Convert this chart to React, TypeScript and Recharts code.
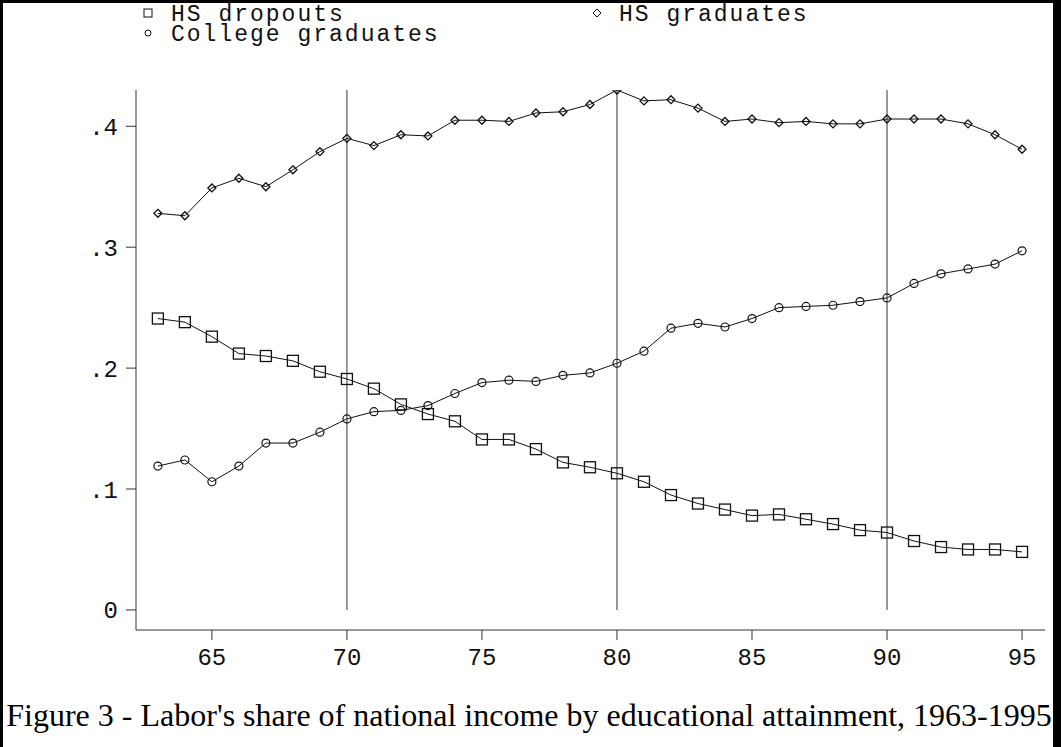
import React from "react";
import { LineChart, Line, XAxis, YAxis, ReferenceLine } from "recharts";

// Labor's share of national income, by group, 1963-1995 (two-digit years)
const YEARS = [
  63, 64, 65, 66, 67, 68, 69, 70, 71, 72, 73, 74, 75, 76, 77, 78, 79,
  80, 81, 82, 83, 84, 85, 86, 87, 88, 89, 90, 91, 92, 93, 94, 95,
];
const HS_DROPOUTS = [
  0.241, 0.238, 0.226, 0.212, 0.21, 0.206, 0.197, 0.191, 0.183, 0.17, 0.162,
  0.156, 0.141, 0.141, 0.133, 0.122, 0.118, 0.113, 0.106, 0.095, 0.088, 0.083,
  0.078, 0.079, 0.075, 0.071, 0.066, 0.064, 0.057, 0.052, 0.05, 0.05, 0.048,
];
const HS_GRADUATES = [
  0.328, 0.326, 0.349, 0.357, 0.35, 0.364, 0.379, 0.39, 0.384, 0.393, 0.392,
  0.405, 0.405, 0.404, 0.411, 0.412, 0.418, 0.43, 0.421, 0.422, 0.415, 0.404,
  0.406, 0.403, 0.404, 0.402, 0.402, 0.406, 0.406, 0.406, 0.402, 0.393, 0.381,
];
const COLLEGE_GRADUATES = [
  0.119, 0.124, 0.106, 0.119, 0.138, 0.138, 0.147, 0.158, 0.164, 0.165, 0.169,
  0.179, 0.188, 0.19, 0.189, 0.194, 0.196, 0.204, 0.214, 0.233, 0.237, 0.234,
  0.241, 0.25, 0.251, 0.252, 0.255, 0.258, 0.27, 0.278, 0.282, 0.286, 0.297,
];
const X_TICKS = [65, 70, 75, 80, 85, 90, 95];
const Y_TICKS = [0, 0.1, 0.2, 0.3, 0.4];
const DECADE_MARKS = [70, 80, 90];
const CAPTION =
  "Figure 3 - Labor's share of national income by educational attainment, 1963-1995";

const rows = YEARS.map((year, i) => ({
  year,
  dropouts: HS_DROPOUTS[i],
  hsGrads: HS_GRADUATES[i],
  college: COLLEGE_GRADUATES[i],
}));

const yMax = Math.max(...HS_DROPOUTS, ...HS_GRADUATES, ...COLLEGE_GRADUATES);

const MONO = "'Liberation Mono', 'DejaVu Sans Mono', monospace";
const INK = "#111";

const fmtY = (v: number) => (v === 0 ? "0" : v.toFixed(1).replace(/^0/, ""));

const squareDot = (p: any) => (
  <rect
    key={`sq-${p.index}`}
    x={p.cx - 5.5}
    y={p.cy - 5.5}
    width={11}
    height={11}
    fill="none"
    stroke={INK}
    strokeWidth={1.3}
  />
);

const diamondDot = (p: any) => (
  <path
    key={`dm-${p.index}`}
    d={`M${p.cx},${p.cy - 4} L${p.cx + 4},${p.cy} L${p.cx},${p.cy + 4} L${p.cx - 4},${p.cy} Z`}
    fill="none"
    stroke={INK}
    strokeWidth={1.3}
  />
);

const circleDot = (p: any) => (
  <circle
    key={`ci-${p.index}`}
    cx={p.cx}
    cy={p.cy}
    r={4}
    fill="none"
    stroke={INK}
    strokeWidth={1.2}
  />
);

const legendText: React.CSSProperties = {
  position: "absolute",
  fontFamily: MONO,
  fontSize: 23,
  letterSpacing: 2,
  lineHeight: "20px",
  color: INK,
  whiteSpace: "pre",
};

function LegendBlock() {
  return (
    <>
      <svg
        style={{ position: "absolute", left: 0, top: 0 }}
        width={1061}
        height={60}
      >
        <rect x={144} y={9} width={8} height={8} fill="none" stroke={INK} strokeWidth={1} />
        <path d="M597,9 L601,13 L597,17 L593,13 Z" fill="none" stroke={INK} strokeWidth={1} />
        <circle cx={148} cy={33} r={3} fill="none" stroke={INK} strokeWidth={1} />
      </svg>
      <div style={{ ...legendText, left: 171, top: 5 }}>HS dropouts</div>
      <div style={{ ...legendText, left: 619, top: 5 }}>HS graduates</div>
      <div style={{ ...legendText, left: 171, top: 25 }}>College graduates</div>
    </>
  );
}

export default function App() {
  return (
    <div
      style={{
        position: "absolute",
        left: 0,
        top: 0,
        width: 1061,
        height: 747,
        background: "#fff",
        overflow: "hidden",
      }}
    >
      <div
        style={{
          position: "absolute",
          left: 0,
          top: 0,
          width: 1050,
          height: 760,
          borderLeft: "3px solid #000",
          borderTop: "3px solid #000",
          borderRight: "8px solid #000",
        }}
      />
      <LineChart
        width={1061}
        height={747}
        data={rows}
        margin={{ top: 90, right: 16, bottom: 77, left: 0 }}
      >
        <XAxis
          dataKey="year"
          type="number"
          domain={[62.19, 95.85]}
          ticks={X_TICKS}
          allowDataOverflow
          stroke="#333"
          tickSize={10}
          tickMargin={8}
          height={40}
          tick={{ fill: INK, fontFamily: MONO, fontSize: 24 }}
        />
        <YAxis
          type="number"
          domain={[-0.0166, yMax]}
          ticks={Y_TICKS}
          allowDataOverflow
          width={136}
          stroke="#333"
          tickSize={10}
          tickMargin={8}
          tickFormatter={fmtY}
          tick={{ fill: INK, fontFamily: MONO, fontSize: 24 }}
        />
        {DECADE_MARKS.map((yr) => (
          <ReferenceLine
            key={yr}
            segment={[
              { x: yr, y: 0 },
              { x: yr, y: yMax },
            ]}
            stroke="#555"
            strokeWidth={1.2}
          />
        ))}
        <Line
          dataKey="hsGrads"
          stroke={INK}
          strokeWidth={1}
          dot={diamondDot}
          activeDot={false}
          isAnimationActive={false}
        />
        <Line
          dataKey="college"
          stroke={INK}
          strokeWidth={1}
          dot={circleDot}
          activeDot={false}
          isAnimationActive={false}
        />
        <Line
          dataKey="dropouts"
          stroke={INK}
          strokeWidth={1}
          dot={squareDot}
          activeDot={false}
          isAnimationActive={false}
        />
      </LineChart>
      <LegendBlock />
      <div
        style={{
          position: "absolute",
          left: 0,
          width: 1058,
          top: 695,
          textAlign: "center",
          fontFamily: "'Liberation Serif', 'Times New Roman', serif",
          fontSize: 32,
          lineHeight: "40px",
          color: "#000",
          whiteSpace: "nowrap",
        }}
      >
        {CAPTION}
      </div>
    </div>
  );
}
